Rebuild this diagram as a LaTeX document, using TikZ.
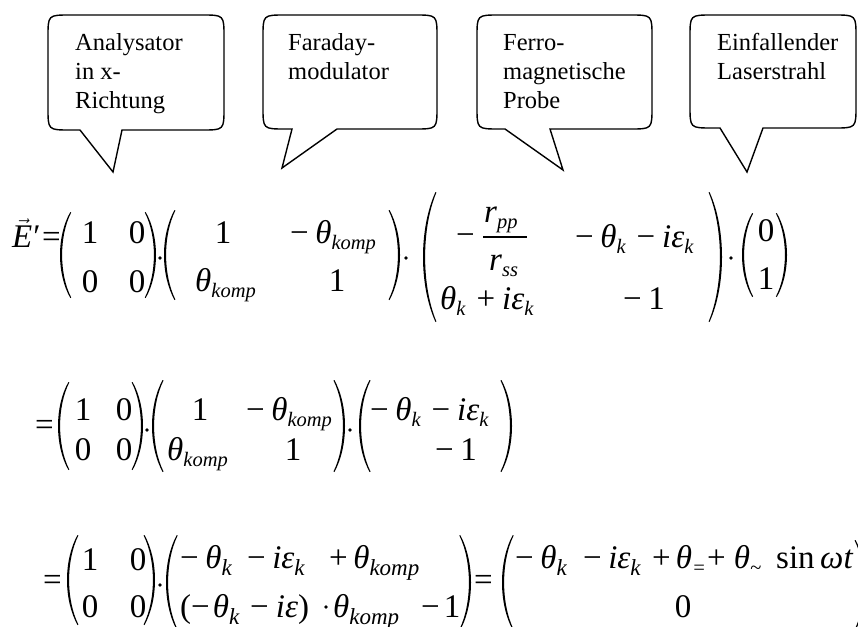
\documentclass[tikz,border=0pt]{standalone}
\usepackage{fontspec}
\setmainfont{Liberation Serif}
\newcommand\xsb[1]{\raisebox{-6.5pt}{\fontsize{20.5}{21}\selectfont\itshape #1}}
\newcommand\xsbL[1]{\raisebox{-7pt}{\fontsize{23}{24}\selectfont\itshape #1}}
\newcommand\xth{\textit{θ}}
\newcommand\xtk{\textit{θ}\xsb{k}}
\newcommand\xek{\textit{iε}\xsb{k}}
\newcommand\xtkomp{\textit{θ}\xsb{komp}}
\newcommand\xmns{−\hspace{6.5pt}}
\newcommand\xop[1]{\hspace{11pt}#1\hspace{7pt}}
% left parenthesis: x of leftmost point, top, bottom
\newcommand\xlpar[3]{%
  \pgfmathsetmacro\pw{6+0.05*(#3-#2)}%
  \pgfmathsetmacro\ph{0.28*(#3-#2)}%
  \fill (#1+\pw,#2) .. controls (#1-\pw/3,#2+\ph) and (#1-\pw/3,#3-\ph) .. (#1+\pw,#3)
    -- (#1+\pw+0.9,#3-0.5) .. controls (#1+2.5-\pw/3,#3-\ph) and (#1+2.5-\pw/3,#2+\ph) .. (#1+\pw+0.9,#2+0.5) -- cycle;}
\newcommand\xrpar[3]{%
  \pgfmathsetmacro\pw{6+0.05*(#3-#2)}%
  \pgfmathsetmacro\ph{0.28*(#3-#2)}%
  \fill (#1-\pw,#2) .. controls (#1+\pw/3,#2+\ph) and (#1+\pw/3,#3-\ph) .. (#1-\pw,#3)
    -- (#1-\pw-0.9,#3-0.5) .. controls (#1-2.5+\pw/3,#3-\ph) and (#1-2.5+\pw/3,#2+\ph) .. (#1-\pw-0.9,#2+0.5) -- cycle;}
% bubble: L,R,T,B,tailL,tailR,tipx,tipy
\newcommand\xbubble[8]{%
  \draw[bub] (#5,#4) -- (#1+22,#4) .. controls (#1,#4) .. (#1,#4-22) -- (#1,#3+22)
    .. controls (#1,#3) .. (#1+22,#3) -- (#2-22,#3) .. controls (#2,#3) .. (#2,#3+22)
    -- (#2,#4-22) .. controls (#2,#4) .. (#2-22,#4) -- (#6,#4) -- (#7,#8) -- cycle;}
\tikzset{
  bub/.style={line width=1.4pt, line join=miter},
  lbl/.style={anchor=base west, inner sep=0pt, font=\fontsize{24.5}{29}\selectfont},
  mw/.style={anchor=base west, inner sep=0pt, font=\fontsize{33}{36}\selectfont},
  mc/.style={anchor=base, inner sep=0pt, font=\fontsize{33}{36}\selectfont},
  dotc/.style={circle, fill, inner sep=0pt, minimum size=3.8pt}
}
\begin{document}
\begin{tikzpicture}[x=1pt,y=-1pt]
\useasboundingbox (0,0) rectangle (858,626);
\fill[white] (0,0) rectangle (858,626);
\clip (0,0) rectangle (858,626);
% ---------- callouts ----------
\xbubble{48}{224}{15}{130}{80}{122}{113}{172}
\xbubble{263}{437}{15}{129}{292}{337}{282}{168}
\xbubble{477}{652}{15}{129}{505}{550}{563}{170}
\xbubble{690}{856}{15}{128}{720}{763}{747}{172}
\node[lbl] (l1) at (75,50) {\begin{tabular}[t]{@{}l@{}}Analysator\\in x-\\Richtung\end{tabular}};
\node[lbl] (l2) at (288,50) {\begin{tabular}[t]{@{}l@{}}Faraday-\\modulator\end{tabular}};
\node[lbl] (l3) at (503,50) {\begin{tabular}[t]{@{}l@{}}Ferro-\\magnetische\\Probe\end{tabular}};
\node[lbl] (l4) at (717,50) {\begin{tabular}[t]{@{}l@{}}Einfallender\\Laserstrahl\end{tabular}};
% ---------- equation 1 ----------
\node[mw] (e1E) at (12,247) {\(\vec{\hbox{\fontsize{33}{36}\selectfont\itshape E}}\)\kern-1pt\textit{′}};
\node[mw] (e1eq) at (42,247) {=};
\xlpar{60}{212}{298}
\node[mc] (e1a11) at (90,243) {1};
\node[mc] (e1a12) at (137,243) {0};
\node[mc] (e1a21) at (90,292) {0};
\node[mc] (e1a22) at (137,292) {0};
\xrpar{156}{212}{298}
\node[dotc] (e1d1) at (160,258) {};
\xlpar{164}{210}{300}
\node[mc] (e1b11) at (223,243) {1};
\node[mw] (e1b12) at (290,243) {\xmns\xtkomp};
\node[mw] (e1b21) at (195,291) {\xtkomp};
\node[mc] (e1b22) at (337,291) {1};
\xrpar{400}{210}{300}
\node[dotc] (e1d2) at (406,258) {};
\xlpar{423}{192}{322}
\node[mw] (e1c11m) at (456,245) {−};
\node[mw] (e1c11n) at (484,222) {\textit{r}\xsb{pp}};
\draw[line width=1.3pt] (483,237) -- (527,237);
\node[mw] (e1c11d) at (489,270) {\textit{r}\xsb{ss}};
\node[mw] (e1c12) at (575,247) {\xmns\xtk\xop{−}\xek};
\node[mw] (e1c21) at (440,309) {\xtk\xop{+}\xek};
\node[mw] (e1c22) at (623,309) {\xmns 1};
\xrpar{722}{192}{322}
\node[dotc] (e1d3) at (731,258) {};
\xlpar{742}{213}{297}
\node[mc] (e1v1) at (766,241) {0};
\node[mc] (e1v2) at (766,289) {1};
\xrpar{787}{213}{297}
% ---------- equation 2 ----------
\node[mw] (e2eq) at (35,435) {=};
\xlpar{58}{382}{470}
\node[mc] (e2a11) at (83,420) {1};
\node[mc] (e2a12) at (124,420) {0};
\node[mc] (e2a21) at (83,460) {0};
\node[mc] (e2a22) at (124,460) {0};
\xrpar{143}{382}{470}
\node[dotc] (e2d1) at (147,430) {};
\xlpar{152}{380}{472}
\node[mc] (e2b11) at (200,420) {1};
\node[mw] (e2b12) at (246,420) {\xmns\xtkomp};
\node[mw] (e2b21) at (167,460) {\xtkomp};
\node[mc] (e2b22) at (293,460) {1};
\xrpar{345}{380}{472}
\node[dotc] (e2d2) at (350,430) {};
\xlpar{359}{380}{472}
\node[mw] (e2v1) at (370,420) {\xmns\xtk\xop{−}\xek};
\node[mw] (e2v2) at (435,460) {\xmns 1};
\xrpar{512}{380}{472}
% ---------- equation 3 ----------
\node[mw] (e3eq) at (43,590) {=};
\xlpar{67}{535}{625}
\node[mc] (e3a11) at (90,570) {1};
\node[mc] (e3a12) at (138,570) {0};
\node[mc] (e3a21) at (90,617) {0};
\node[mc] (e3a22) at (138,617) {0};
\xrpar{155}{535}{625}
\node[dotc] (e3d1) at (160,585) {};
\xlpar{166}{535}{630}
\node[mw] (e3b1a) at (180,568) {\xmns\xth\xsbL{k}};
\node[mw] (e3b1b) at (247,568) {\xmns\textit{iε}\xsbL{k}};
\node[mw] (e3b1c) at (329,568) {+\hspace{5.5pt}\xth\xsbL{komp}};
\node[mw] (e3b2a) at (180,617) {(−\hspace{3pt}\xth\xsbL{k}\xop{−}\textit{iε})};
\node[dotc] (e3b2d) at (326,607) {};
\node[mw] (e3b2b) at (333,617) {\xth\xsbL{komp}};
\node[mw] (e3b2c) at (421,617) {−\hspace{4pt}1};
\xrpar{471}{535}{630}
\node[mw] (e3eq2) at (474,590) {=};
\xlpar{502}{535}{630}
\node[mw] (e3v1a) at (515,568) {\xmns\xth\xsbL{k}};
\node[mw] (e3v1b) at (583,568) {\xmns\textit{iε}\xsbL{k}};
\node[mw] (e3v1c) at (652,568) {+\hspace{5pt}\xth\xsb{=}};
\node[mw] (e3v1d) at (707,568) {+\hspace{8pt}\xth\xsb{\textasciitilde}};
\node[mw] (e3v1e) at (776,568) {sin\,\textit{ωt}};
\node[mc] (e3v2) at (683,617) {0};
\xrpar{866}{540}{630}
\end{tikzpicture}
\end{document}
